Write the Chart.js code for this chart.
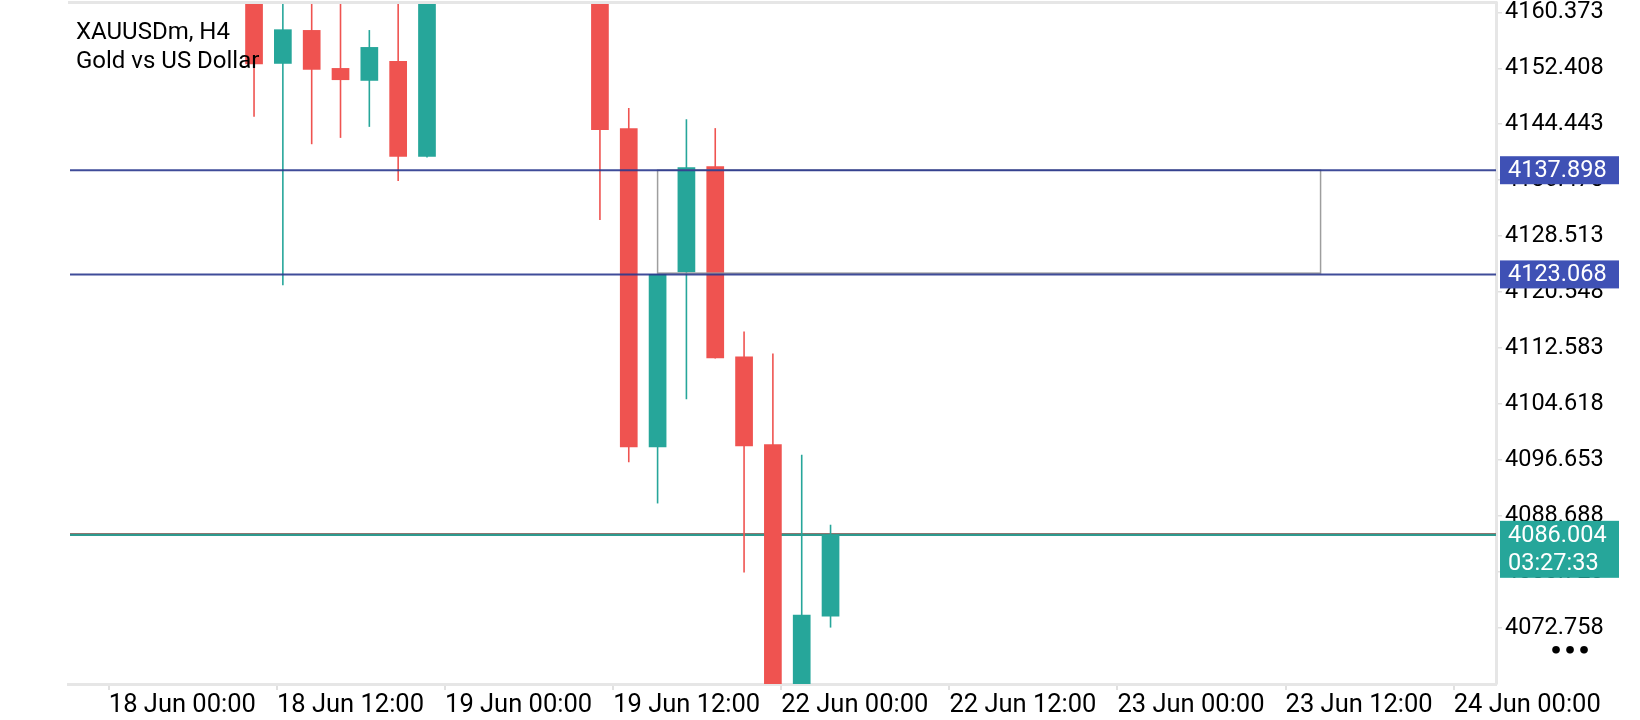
<!DOCTYPE html>
<html>
<head>
<meta charset="utf-8">
<script src="https://cdn.jsdelivr.net/npm/chart.js@4/dist/chart.umd.min.js"></script>
<style>
  html, body { margin: 0; padding: 0; background: #ffffff; }
  #wrap { width: 1640px; height: 720px; position: relative; }
</style>
</head>
<body>
<div id="wrap"><canvas id="c" width="1640" height="720"></canvas></div>
<script>
// ---- data ----
const symbolTitle = 'XAUUSDm, H4';
const symbolName = 'Gold vs US Dollar';
// candle index along the time axis (H4 bars); null = bar outside the visible price range
const candleIndex = [0, 1, 2, 3, 4, 5, 6, 7, 8, 9, 10, 11, 12, 13, 14, 15, 16, 17, 18, 19, 20];
const opens  = [4166.5, 4153.05, 4157.85, 4152.44, 4150.63, 4153.44, 4139.80, null, null, null, null, null, 4166.0, 4143.89, 4098.46, 4123.36, 4138.47, 4111.39, 4098.88, 4063.5, 4074.36];
const highs  = [4170.0, 4163.5, 4162.8, 4163.0, 4157.85, 4162.5, 4169.0, null, null, null, null, null, 4168.0, 4146.74, 4123.12, 4145.17, 4143.89, 4114.95, 4111.81, 4097.41, 4087.44];
const lows   = [4145.50, 4121.51, 4141.60, 4142.50, 4144.07, 4136.37, 4139.70, null, null, null, null, null, 4130.81, 4096.32, 4090.47, 4105.30, 4111.10, 4080.64, 4060.0, 4061.0, 4072.80];
const closes = [4152.97, 4157.95, 4152.20, 4150.73, 4155.43, 4139.80, 4167.0, null, null, null, null, null, 4143.64, 4098.46, 4123.12, 4138.33, 4111.14, 4098.60, 4062.5, 4074.61, 4086.004];

const xTickLabels = ['18 Jun 00:00', '18 Jun 12:00', '19 Jun 00:00', '19 Jun 12:00', '22 Jun 00:00', '22 Jun 12:00', '23 Jun 00:00', '23 Jun 12:00', '24 Jun 00:00'];
const yTickValues = [4072.758, 4080.723, 4088.688, 4096.653, 4104.618, 4112.583, 4120.548, 4128.513, 4136.478, 4144.443, 4152.408, 4160.373];
const yTickLabels = ['4072.758', '4080.723', '4088.688', '4096.653', '4104.618', '4112.583', '4120.548', '4128.513', '4136.478', '4144.443', '4152.408', '4160.373'];

const levelLines = [4137.898, 4123.068];
const levelLabels = ['4137.898', '4123.068'];
const currentPrice = 4086.004;
const currentPriceLabel = '4086.004';
const countdownLabel = '03:27:33';
const askPrice = 4086.17;
const rectX = [14, 37];
const rectY = [4123.25, 4137.898];

// ---- view range / style ----
const X_MIN = -6.454, X_MAX = 43.086;
const Y_MIN = 4064.77, Y_MAX = 4161.70;
const TICK_START = -5.037, TICK_STEP = 5.832;
const UP = '#26A69A', DOWN = '#EF5350';
const FONT = 'Roboto, "Noto Sans", sans-serif';

const bodyData = [], bodyColors = [], wickData = [], wickColors = [];
candleIndex.forEach((ix, k) => {
  if (opens[k] == null) return;
  const col = closes[k] >= opens[k] ? UP : DOWN;
  bodyData.push({x: ix, y: [opens[k], closes[k]]});
  bodyColors.push(col);
  wickData.push({x: ix, y: [lows[k], highs[k]]});
  wickColors.push(col);
});

const overlay = {
  id: 'overlay',
  beforeDatasetsDraw(chart) {
    const {ctx, chartArea: a, scales: {y}} = chart;
    ctx.save();
    ctx.beginPath(); ctx.rect(a.left, a.top, a.right - a.left, a.bottom - a.top); ctx.clip();
    let py = y.getPixelForValue(askPrice);
    ctx.strokeStyle = DOWN; ctx.lineWidth = 1.2;
    ctx.beginPath(); ctx.moveTo(a.left + 2, py); ctx.lineTo(a.right, py); ctx.stroke();
    py = y.getPixelForValue(currentPrice);
    ctx.strokeStyle = '#2E9A8F'; ctx.lineWidth = 2.6;
    ctx.beginPath(); ctx.moveTo(a.left + 2, py); ctx.lineTo(a.right, py); ctx.stroke();
    ctx.restore();
  },
  afterDatasetsDraw(chart) {
    const {ctx, chartArea: a, scales: {x, y}} = chart;
    ctx.save();
    ctx.beginPath(); ctx.rect(a.left, a.top, a.right - a.left, a.bottom - a.top); ctx.clip();
    const x0 = x.getPixelForValue(rectX[0]), x1 = x.getPixelForValue(rectX[1]);
    const y0 = y.getPixelForValue(rectY[0]), y1 = y.getPixelForValue(rectY[1]);
    ctx.strokeStyle = '#9E9E9E'; ctx.lineWidth = 1.5;
    ctx.strokeRect(x0, y1, x1 - x0, y0 - y1);
    ctx.strokeStyle = 'rgba(42,57,142,0.9)'; ctx.lineWidth = 2;
    levelLines.forEach(v => {
      const py = y.getPixelForValue(v);
      ctx.beginPath(); ctx.moveTo(a.left + 2, py); ctx.lineTo(a.right, py); ctx.stroke();
    });
    ctx.restore();
  },
  afterDraw(chart) {
    const {ctx, chartArea: a, scales: {y}} = chart;
    ctx.save();
    ctx.strokeStyle = '#E6E6E6'; ctx.lineWidth = 3;
    ctx.beginPath(); ctx.moveTo(a.left, 2.5); ctx.lineTo(a.right + 1.5, 2.5); ctx.stroke();
    ctx.fillStyle = '#000000';
    ctx.font = '24px ' + FONT;
    ctx.textAlign = 'left'; ctx.textBaseline = 'middle';
    ctx.fillText(symbolTitle, 76, 33);
    ctx.fillText(symbolName, 76, 62);
    const bx = a.right + 4, bw = 119;
    ctx.font = '23.5px ' + FONT;
    levelLines.forEach((v, i) => {
      const py = y.getPixelForValue(v);
      ctx.fillStyle = '#3F51B5';
      ctx.fillRect(bx, py - 14, bw, 28);
      ctx.fillStyle = '#FFFFFF';
      ctx.fillText(levelLabels[i], bx + 8, py + 1);
    });
    const cp = y.getPixelForValue(currentPrice);
    ctx.fillStyle = UP;
    ctx.fillRect(bx, cp - 14, bw, 57);
    ctx.fillStyle = '#FFFFFF';
    ctx.fillText(currentPriceLabel, bx + 8, cp + 1);
    ctx.fillText(countdownLabel, bx + 8, cp + 29);
    ctx.fillStyle = '#000000';
    ctx.font = 'bold 22px "DejaVu Sans", sans-serif';
    ctx.fillText('\u2022\u2022\u2022', 1549, 652);
    ctx.restore();
  }
};

new Chart(document.getElementById('c'), {
  type: 'bar',
  data: {
    datasets: [
      { label: 'wicks', data: wickData, backgroundColor: wickColors, barThickness: 1.6, grouped: false, clip: 0, order: 2, inflateAmount: 0, borderWidth: 0 },
      { label: 'bodies', data: bodyData, backgroundColor: bodyColors, barThickness: 17.7, grouped: false, clip: 0, order: 1, inflateAmount: 0, borderWidth: 0 }
    ]
  },
  options: {
    responsive: false,
    animation: false,
    devicePixelRatio: 1,
    layout: { padding: { left: 68, top: 3, right: 0, bottom: 0 } },
    plugins: { legend: { display: false }, tooltip: { enabled: false } },
    scales: {
      x: {
        type: 'linear', min: X_MIN, max: X_MAX, offset: false,
        grid: { display: true, drawOnChartArea: false, drawTicks: true, tickLength: 6, color: '#E0E0E0', lineWidth: 2, offset: false },
        border: { display: true, color: '#E6E6E6', width: 3 },
        afterBuildTicks(scale) { scale.ticks = xTickLabels.map((_, i) => ({ value: TICK_START + i * TICK_STEP })); },
        afterFit(scale) { scale.height = 720 - 684; scale.paddingLeft = 0; scale.paddingRight = 0; },
        ticks: {
          autoSkip: false, maxRotation: 0, minRotation: 0, align: 'start', padding: 0,
          color: '#000000', font: { family: FONT, size: 25.5 },
          callback: (v, i) => xTickLabels[i]
        }
      },
      y: {
        type: 'linear', position: 'right', min: Y_MIN, max: Y_MAX, beginAtZero: false,
        grid: { display: true, drawOnChartArea: false, drawTicks: true, tickLength: 6, color: '#E0E0E0', lineWidth: 1.5 },
        border: { display: true, color: '#E6E6E6', width: 3 },
        afterBuildTicks(scale) { scale.ticks = yTickValues.map(v => ({ value: v })); },
        afterFit(scale) { scale.width = 1640 - 1496; scale.paddingTop = 0; scale.paddingBottom = 0; },
        ticks: {
          autoSkip: false, crossAlign: 'near', padding: 3,
          color: '#000000', font: { family: FONT, size: 23.5 },
          callback: (v, i) => yTickLabels[i]
        }
      }
    }
  },
  plugins: [overlay]
});
</script>
</body>
</html>
